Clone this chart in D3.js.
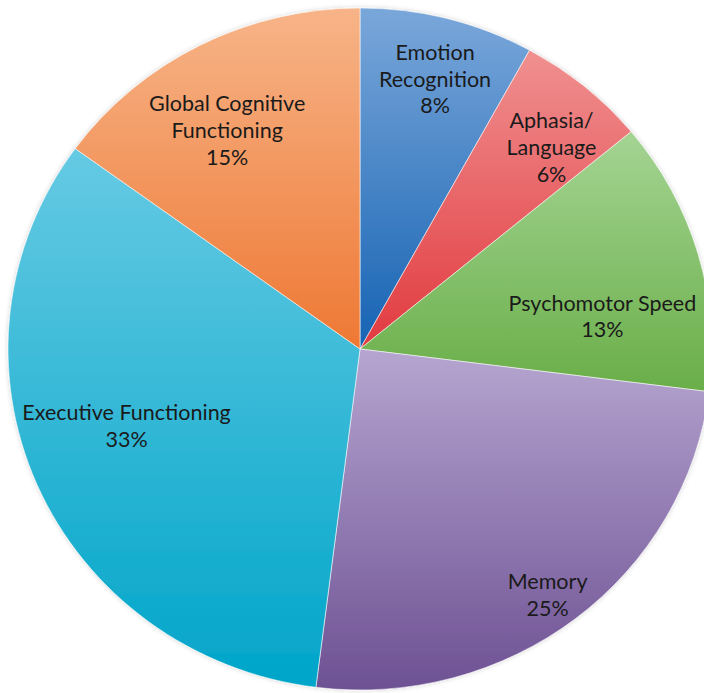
<!DOCTYPE html>
<html>
<head>
<meta charset="utf-8">
<script src="https://cdn.jsdelivr.net/npm/d3@7"></script>
<style>
  html, body { margin: 0; padding: 0; background: #fff; }
  svg { display: block; }
</style>
</head>
<body>
<svg id="chart" width="704" height="693"></svg>
<script>
// Share of studies per cognitive domain (percent)
const categories = [
  "Emotion Recognition",
  "Aphasia/Language",
  "Psychomotor Speed",
  "Memory",
  "Executive Functioning",
  "Global Cognitive Functioning"
];
const values = [8, 6, 13, 25, 33, 15];

// Line breaks used for each slice label
const labelLines = [
  ["Emotion", "Recognition"],
  ["Aphasia/", "Language"],
  ["Psychomotor Speed"],
  ["Memory"],
  ["Executive Functioning"],
  ["Global Cognitive", "Functioning"]
];

// Gradient stops per slice: [top colour, bottom colour]
const sliceColors = [
  ["#7aa7da", "#1663b3"],
  ["#f09090", "#e13a3f"],
  ["#a4d493", "#69ae48"],
  ["#b6a5d0", "#6d5193"],
  ["#66cae3", "#00a5c9"],
  ["#f7b488", "#ee7834"]
];

// Label placement: radius fraction and pixel nudge from that point
const labelLayout = [
  { k: 0.8, dx: 5,   dy: -6 },
  { k: 0.8, dx: 12,  dy: 8 },
  { k: 0.8, dx: -28, dy: 43 },
  { k: 0.8, dx: 15,  dy: 30 },
  { k: 0.8, dx: 25,  dy: -32 },
  { k: 0.8, dx: -5,  dy: 24 }
];

const cx = 360, cy = 349, rx = 352, ry = 341;
const lineH = 26.7;

const svg = d3.select("#chart");
const defs = svg.append("defs");

sliceColors.forEach((c, i) => {
  const g = defs.append("linearGradient")
    .attr("id", "grad" + i)
    .attr("x1", 0).attr("y1", 0).attr("x2", 0).attr("y2", 1);
  g.append("stop").attr("offset", "0%").attr("stop-color", c[0]);
  g.append("stop").attr("offset", "100%").attr("stop-color", c[1]);
});

const shadow = defs.append("filter").attr("id", "soft")
  .attr("x", "-5%").attr("y", "-5%").attr("width", "110%").attr("height", "110%");
shadow.append("feGaussianBlur").attr("in", "SourceAlpha").attr("stdDeviation", 2.5).attr("result", "b");
shadow.append("feComponentTransfer").attr("in", "b").attr("result", "s")
  .append("feFuncA").attr("type", "linear").attr("slope", 0.18);
const merge = shadow.append("feMerge");
merge.append("feMergeNode").attr("in", "s");
merge.append("feMergeNode").attr("in", "SourceGraphic");

const data = categories.map((name, i) => ({ name, value: values[i], i }));

const pie = d3.pie().value(d => d.value).sort(null);
const arcs = pie(data);

const arc = d3.arc().innerRadius(0).outerRadius(ry);

const g = svg.append("g")
  .attr("transform", `translate(${cx},${cy}) scale(${rx / ry},1)`)
  .attr("filter", "url(#soft)");

g.selectAll("path.slice")
  .data(arcs)
  .join("path")
  .attr("class", "slice")
  .attr("d", arc)
  .attr("fill", d => `url(#grad${d.data.i})`)
  .attr("stroke", "rgba(255,255,255,0.55)")
  .attr("stroke-width", 1)
  .attr("vector-effect", "non-scaling-stroke");

// Labels
const labels = svg.append("g")
  .attr("font-family", "Lato, 'Open Sans', sans-serif")
  .attr("font-size", 21.5)
  .attr("fill", "#1a1a1a")
  .attr("text-anchor", "middle");

arcs.forEach(a => {
  const i = a.data.i;
  const mid = (a.startAngle + a.endAngle) / 2;
  const L = labelLayout[i];
  const x = cx + Math.sin(mid) * L.k * rx + L.dx;
  const y = cy - Math.cos(mid) * L.k * ry + L.dy;
  const lines = labelLines[i].concat([d3.format(".0f")(a.data.value) + "%"]);
  const n = lines.length;
  const t = labels.append("text")
    .attr("x", x)
    .attr("y", y)
    .attr("dominant-baseline", "central");
  lines.forEach((ln, j) => {
    t.append("tspan")
      .attr("x", x)
      .attr("y", y + (j - (n - 1) / 2) * lineH)
      .text(ln);
  });
});
</script>
</body>
</html>
